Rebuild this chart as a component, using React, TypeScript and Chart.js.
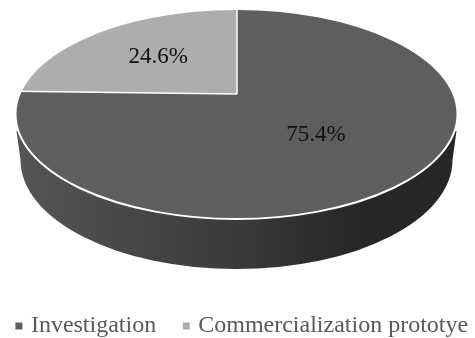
import React, { useEffect, useRef } from "react";
import { Chart, registerables } from "chart.js";

Chart.register(...registerables);

const categories = ["Investigation", "Commercialization prototye"];
const shares = [75.4, 24.6];
const sliceColors = ["#5e5e5e", "#adadad"];

const FONT_FAMILY = "'Liberation Serif', serif";

// Tilted disc geometry, in canvas pixels.
const disc = { cx: 236.5, cy: 114, rx: 221, ry: 105, apexX: 237, apexY: 94 };
const wall = { cy: 160, rx: 216, ry: 109, topY: 131, topInset: 1 };
const LABEL_RADIUS = 113;
const LABEL_DROP = [3, 1];
const FAN_RADIUS = 320;

const tiltedPie = {
  id: "tiltedPie",
  beforeDatasetsDraw(chart: any) {
    const { ctx } = chart;
    const arc = chart.getDatasetMeta(0).data[0];
    const squash = disc.ry / disc.rx;
    const grow = FAN_RADIUS / arc.outerRadius;

    // Side wall of the disc.
    const shade = ctx.createLinearGradient(disc.cx - disc.rx, 0, disc.cx + disc.rx, 0);
    shade.addColorStop(0, "#555555");
    shade.addColorStop(0.5, "#3a3a3a");
    shade.addColorStop(0.77, "#272727");
    shade.addColorStop(1, "#262626");
    ctx.save();
    ctx.fillStyle = shade;
    ctx.beginPath();
    ctx.moveTo(disc.cx - disc.rx + wall.topInset, wall.topY);
    ctx.ellipse(disc.cx, wall.cy, wall.rx, wall.ry, 0, Math.PI, 0, true);
    ctx.lineTo(disc.cx + disc.rx - wall.topInset, wall.topY);
    ctx.closePath();
    ctx.fill();
    ctx.restore();

    // Slices are fanned out from the apex and cut by the disc outline.
    ctx.save();
    ctx.beginPath();
    ctx.ellipse(disc.cx, disc.cy, disc.rx, disc.ry, 0, 0, Math.PI * 2);
    ctx.clip();
    ctx.translate(disc.apexX, disc.apexY);
    ctx.scale(grow, grow * squash);
    ctx.translate(-arc.x, -arc.y);
  },
  afterDatasetsDraw(chart: any) {
    const { ctx } = chart;
    ctx.restore();
    const arcs = chart.getDatasetMeta(0).data;
    const squash = disc.ry / disc.rx;

    // White rim and slice separators.
    ctx.save();
    ctx.strokeStyle = "#ffffff";
    ctx.lineWidth = 2;
    ctx.beginPath();
    ctx.ellipse(disc.cx, disc.cy, disc.rx, disc.ry, 0, 0, Math.PI * 2);
    ctx.stroke();
    ctx.beginPath();
    ctx.ellipse(disc.cx, disc.cy, disc.rx, disc.ry, 0, 0, Math.PI * 2);
    ctx.clip();
    ctx.lineWidth = 1.5;
    arcs.forEach((a: any) => {
      ctx.beginPath();
      ctx.moveTo(disc.apexX, disc.apexY);
      ctx.lineTo(
        disc.apexX + Math.cos(a.startAngle) * FAN_RADIUS,
        disc.apexY + Math.sin(a.startAngle) * FAN_RADIUS * squash,
      );
      ctx.stroke();
    });
    ctx.restore();

    // Percentage labels at each slice's middle angle.
    ctx.save();
    ctx.fillStyle = "#111111";
    ctx.font = `23px ${FONT_FAMILY}`;
    ctx.textAlign = "center";
    ctx.textBaseline = "middle";
    arcs.forEach((a: any, i: number) => {
      const mid = (a.startAngle + a.endAngle) / 2;
      ctx.fillText(
        `${shares[i].toFixed(1)}%`,
        disc.apexX + Math.cos(mid) * LABEL_RADIUS,
        disc.apexY + Math.sin(mid) * LABEL_RADIUS * squash + LABEL_DROP[i],
      );
    });
    ctx.restore();
  },
};

export default function App() {
  const ref = useRef<HTMLCanvasElement>(null);

  useEffect(() => {
    const chart = new Chart(ref.current as HTMLCanvasElement, {
      type: "pie",
      data: {
        labels: categories,
        datasets: [
          {
            data: shares,
            backgroundColor: sliceColors,
            borderWidth: 0,
            clip: false,
          } as any,
        ],
      },
      options: {
        responsive: false,
        animation: false,
        layout: { padding: { bottom: -10, left: 12 } },
        plugins: {
          tooltip: { enabled: false },
          legend: {
            position: "bottom",
            labels: {
              usePointStyle: true,
              pointStyle: "rect",
              boxWidth: 0.01,
              boxHeight: 7,
              padding: 6,
              color: "#595959",
              font: { family: FONT_FAMILY, size: 24 },
              // Trailing spaces widen the gap between the two entries.
              generateLabels(c: any) {
                const items = Chart.overrides.pie.plugins.legend.labels.generateLabels(c);
                return items.map((item: any, i: number) => ({
                  ...item,
                  text: i === 0 ? `${item.text}\u00a0\u00a0\u00a0\u00a0` : item.text,
                  lineWidth: 0,
                }));
              },
            },
          },
        },
      },
      plugins: [tiltedPie],
    });
    return () => chart.destroy();
  }, []);

  return (
    <div style={{ position: "absolute", left: 0, top: 0, width: 475, height: 338, background: "#ffffff" }}>
      <canvas ref={ref} width={475} height={338} style={{ display: "block" }} />
    </div>
  );
}
